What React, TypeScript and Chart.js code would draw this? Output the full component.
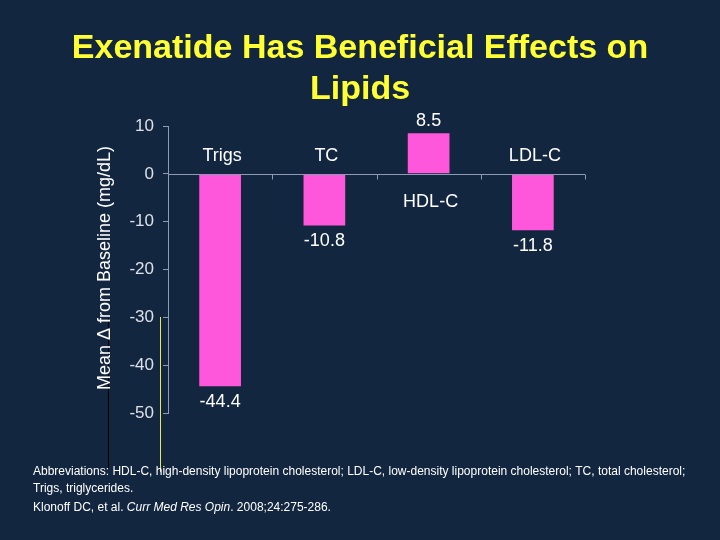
import { useEffect, useRef } from "react";
import { Chart, registerables } from "chart.js";

Chart.register(...registerables);

const categories = ["Trigs", "TC", "HDL-C", "LDL-C"];
const values = [-44.4, -10.8, 8.5, -11.8];
const valueLabels = ["-44.4", "-10.8", "8.5", "-11.8"];
const yMin = -50;
const yMax = 10;
const yStep = 10;
const titleLines = ["Exenatide Has Beneficial Effects on", "Lipids"];
const yTitle = "Mean Δ from Baseline (mg/dL)";
const footLine1 =
  "Abbreviations: HDL-C, high-density lipoprotein cholesterol; LDL-C, low-density lipoprotein cholesterol; TC, total cholesterol;";
const footLine2 = "Trigs, triglycerides.";
const citeParts = ["Klonoff DC, et al. ", "Curr Med Res Opin", ". 2008;24:275-286."];

const BG = "#13263f";
const BAR = "#ff57dc";
const AXIS = "#8e9bb5";
const TITLE = "#ffff33";
const FONT = "'Liberation Sans', Arial, sans-serif";

const decorPlugin = {
  id: "decor",
  beforeDraw(chart: any) {
    const { ctx, width, height } = chart;
    ctx.save();
    ctx.fillStyle = BG;
    ctx.fillRect(0, 0, width, height);
    // stray slide lines (behind text)
    ctx.lineWidth = 1;
    ctx.strokeStyle = "#000000";
    ctx.beginPath();
    ctx.moveTo(108.5, 318);
    ctx.lineTo(108.5, 468);
    ctx.stroke();
    ctx.strokeStyle = "#e8e85a";
    ctx.beginPath();
    ctx.moveTo(160.5, 317);
    ctx.lineTo(160.5, 472);
    ctx.stroke();
    ctx.restore();
  },
  afterDraw(chart: any) {
    const { ctx, chartArea } = chart;
    const x = chart.scales.x;
    const y = chart.scales.y;
    const zeroY = Math.round(y.getPixelForValue(0)) + 0.5;
    ctx.save();
    // zero line
    ctx.strokeStyle = AXIS;
    ctx.lineWidth = 1;
    ctx.beginPath();
    ctx.moveTo(chartArea.left, zeroY);
    ctx.lineTo(chartArea.right, zeroY);
    // category boundary ticks
    const half = (x.getPixelForValue(1) - x.getPixelForValue(0)) / 2;
    categories.forEach((_, i) => {
      const px = Math.round(x.getPixelForValue(i) + half) + 0.5;
      ctx.moveTo(px, zeroY);
      ctx.lineTo(px, zeroY + 5);
    });
    ctx.stroke();

    // category labels and value labels
    ctx.fillStyle = "#ffffff";
    ctx.textAlign = "center";
    ctx.textBaseline = "middle";
    ctx.font = `18px ${FONT}`;
    categories.forEach((c, i) => {
      const px = x.getPixelForValue(i);
      const v = values[i];
      const ly = v < 0 ? y.getPixelForValue(0) - 18 : y.getPixelForValue(0) + 28;
      ctx.fillText(c, px + 2, ly);
      const vy = v < 0 ? y.getPixelForValue(v) + 16 : y.getPixelForValue(v) - 12;
      ctx.fillText(valueLabels[i], px, vy);
    });

    // title
    ctx.fillStyle = TITLE;
    ctx.font = `bold 34px ${FONT}`;
    ctx.fillText(titleLines[0], 360, 49);
    ctx.fillText(titleLines[1], 360, 90);

    // y axis title
    ctx.fillStyle = "#ffffff";
    ctx.save();
    ctx.translate(105, 268);
    ctx.rotate(-Math.PI / 2);
    ctx.font = `18px ${FONT}`;
    ctx.fillText(yTitle, 0, 0);
    ctx.restore();

    // footnotes
    ctx.textAlign = "left";
    ctx.textBaseline = "middle";
    ctx.fillStyle = "#ffffff";
    ctx.font = `12px ${FONT}`;
    ctx.fillText(footLine1, 33, 472);
    ctx.fillText(footLine2, 33, 489);
    let cx = 33;
    citeParts.forEach((p, i) => {
      ctx.font = i === 1 ? `italic 12px ${FONT}` : `12px ${FONT}`;
      ctx.fillText(p, cx, 508);
      cx += ctx.measureText(p).width;
    });
    ctx.restore();
  },
};

export default function App() {
  const ref = useRef<HTMLCanvasElement>(null);
  useEffect(() => {
    if (!ref.current) return;
    const chart = new Chart(ref.current, {
      type: "bar",
      data: {
        labels: categories,
        datasets: [
          {
            data: values,
            backgroundColor: BAR,
            borderWidth: 0,
            categoryPercentage: 1,
            barPercentage: 0.4,
          },
        ],
      },
      options: {
        responsive: false,
        animation: false,
        layout: { padding: { left: 0, right: 135, top: 126, bottom: 127 } },
        plugins: {
          legend: { display: false },
          tooltip: { enabled: false },
          title: { display: false },
        },
        scales: {
          x: { display: false },
          y: {
            min: yMin,
            max: yMax,
            ticks: {
              stepSize: yStep,
              color: "#dde0e8",
              font: { size: 17, family: FONT },
              padding: 9,
            },
            grid: {
              drawOnChartArea: false,
              drawTicks: true,
              tickLength: 5,
              color: AXIS,
            },
            border: { display: true, color: AXIS, width: 1 },
            afterFit: (s: any) => {
              s.width = 168;
            },
          },
        },
      },
      plugins: [decorPlugin],
    });
    return () => chart.destroy();
  }, []);
  return (
    <div style={{ position: "fixed", left: 0, top: 0, width: 720, height: 540, background: BG }}>
      <canvas ref={ref} width={720} height={540} style={{ display: "block" }} />
    </div>
  );
}
